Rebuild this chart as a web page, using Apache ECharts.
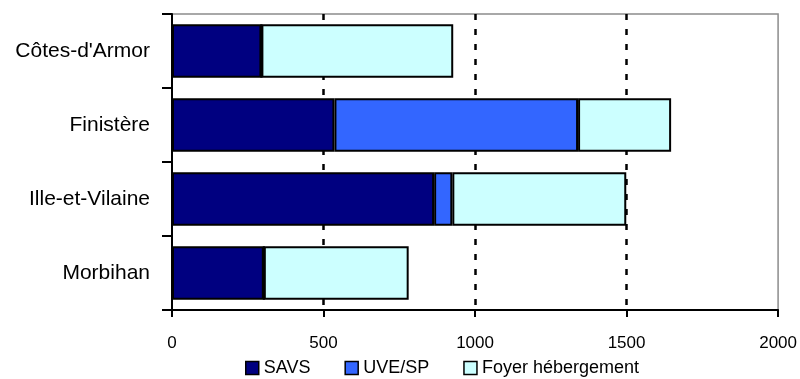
<!DOCTYPE html>
<html>
<head>
<meta charset="utf-8">
<script src="https://cdn.jsdelivr.net/npm/echarts@6/dist/echarts.min.js"></script>
<style>
  html, body { margin: 0; padding: 0; background: #fff; }
  #chart { width: 800px; height: 379px; }
</style>
</head>
<body>
<div id="chart"></div>
<script>
// Places par département, par type de structure
const departements = ["Côtes-d'Armor", "Finistère", "Ille-et-Vilaine", "Morbihan"];
const savs = [295, 536, 865, 303];
const uveSp = [0, 804, 60, 0];
const foyerHebergement = [633, 307, 574, 478];

const xMin = 0;
const xMax = 2000;
const xStep = 500;

const FONT = "'Liberation Sans', Arial, sans-serif";

const chart = echarts.init(document.getElementById('chart'), null, { renderer: 'canvas' });

function barSeries(name, values, color) {
  return {
    name: name,
    type: 'bar',
    stack: 'total',
    data: values,
    barCategoryGap: '28%',
    itemStyle: { color: color, borderColor: '#000', borderWidth: 2 },
    emphasis: { disabled: true }
  };
}

chart.setOption({
  animation: false,
  backgroundColor: '#fff',
  grid: {
    left: 172, right: 20, top: 14, bottom: 69,
    show: true, borderColor: '#8c8c8c', borderWidth: 1.5, backgroundColor: 'transparent'
  },
  legend: {
    top: 359,
    left: 245,
    padding: 0,
    itemWidth: 13,
    itemHeight: 13,
    itemGap: 34,
    icon: 'rect',
    textStyle: { fontFamily: FONT, fontSize: 18, color: '#000' },
    itemStyle: { borderColor: '#000', borderWidth: 1.5 },
    data: ['SAVS', 'UVE/SP', 'Foyer hébergement']
  },
  xAxis: {
    type: 'value',
    min: xMin, max: xMax, interval: xStep,
    axisLine: { show: true, lineStyle: { color: '#000', width: 2 } },
    axisTick: { show: true, length: 7, lineStyle: { color: '#000', width: 2 } },
    axisLabel: {
      fontFamily: FONT, fontSize: 17, color: '#000', margin: 25,
      formatter: function (v) { return String(v); }
    },
    splitLine: {
      show: true,
      showMinLine: false,
      showMaxLine: false,
      lineStyle: { color: '#000', width: 2.5, type: [6, 9] }
    }
  },
  yAxis: {
    type: 'category',
    data: departements,
    inverse: true,
    axisLine: { show: true, lineStyle: { color: '#000', width: 2 } },
    axisTick: { show: true, length: 10, lineStyle: { color: '#000', width: 2 } },
    axisLabel: { fontFamily: FONT, fontSize: 21, color: '#000', margin: 22 }
  },
  series: [
    barSeries('SAVS', savs, '#000080'),
    barSeries('UVE/SP', uveSp, '#3366ff'),
    barSeries('Foyer hébergement', foyerHebergement, '#ccffff')
  ]
});
</script>
</body>
</html>
